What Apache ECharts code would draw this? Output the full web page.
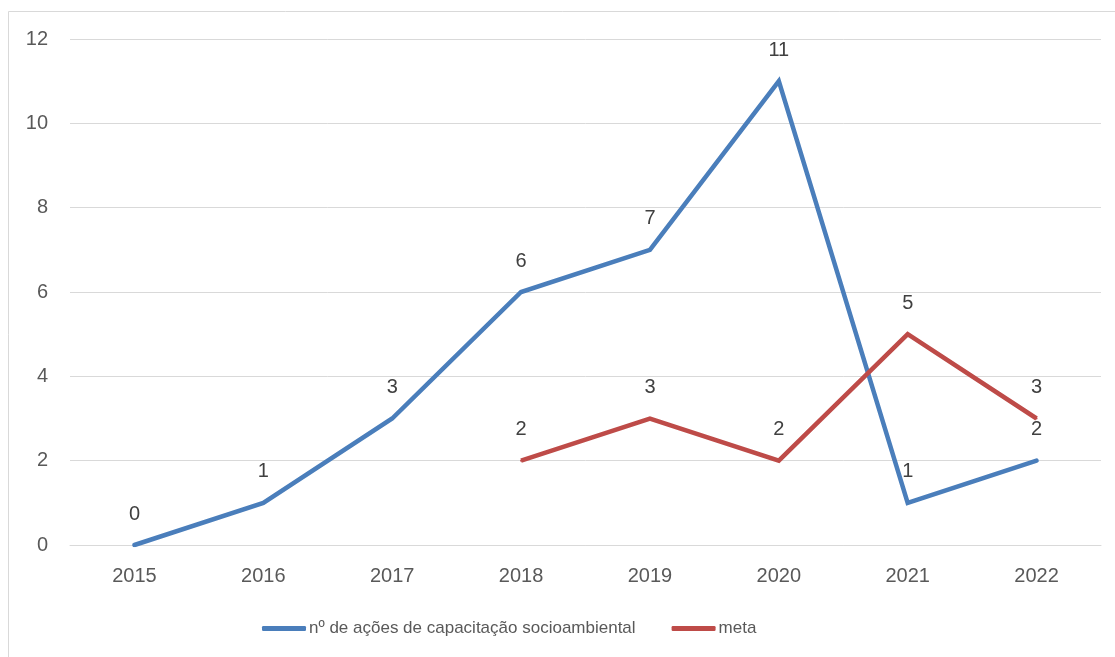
<!DOCTYPE html>
<html><head><meta charset="utf-8">
<script src="https://cdn.jsdelivr.net/npm/echarts@6/dist/echarts.min.js"></script>
<style>html,body{margin:0;padding:0;background:#fff}#c{width:1115px;height:657px}</style>
</head><body><div id="c"></div>
<script>
const categories = ['2015','2016','2017','2018','2019','2020','2021','2022'];
const acoes = [0, 1, 3, 6, 7, 11, 1, 2];
const meta = [null, null, null, 2, 3, 2, 5, 3];
const seriesNames = ['nº de ações de capacitação socioambiental', 'meta'];
const yTicks = {min: 0, max: 12, interval: 2};

const FONT = '"Liberation Sans", Arial, sans-serif';
const chart = echarts.init(document.getElementById('c'), null, {renderer: 'canvas'});
const lbl = {show: true, position: 'top', distance: 20, color: '#404040', fontSize: 20, fontFamily: FONT};
chart.setOption({
  animation: false,
  backgroundColor: '#fff',
  graphic: [{type: 'polyline', shape: {points: [[8.5, 700], [8.5, 11.5], [1200, 11.5]]}, style: {stroke: '#d9d9d9', lineWidth: 1, fill: null}}],
  grid: {left: 70, right: 14, top: 39, bottom: 112, containLabel: false},
  legend: {
    left: 257, top: 615, itemGap: 36, itemWidth: 44, itemHeight: 5, icon: 'roundRect',
    textStyle: {color: '#595959', fontSize: 17, fontFamily: FONT, padding: [0, 0, 0, -2]},
    data: seriesNames
  },
  xAxis: {
    type: 'category', data: categories, boundaryGap: true,
    axisLine: {lineStyle: {color: '#d9d9d9', width: 1}}, axisTick: {show: false},
    axisLabel: {color: '#595959', fontSize: 20, fontFamily: FONT, margin: 21}
  },
  yAxis: {
    type: 'value', min: yTicks.min, max: yTicks.max, interval: yTicks.interval,
    axisLine: {show: false}, axisTick: {show: false},
    splitLine: {lineStyle: {color: '#d9d9d9', width: 1}},
    axisLabel: {color: '#595959', fontSize: 20, fontFamily: FONT, margin: 22}
  },
  series: [
    {name: seriesNames[0], type: 'line', data: acoes, symbol: 'circle', symbolSize: 2, showSymbol: true,
     lineStyle: {color: '#4a7ebb', width: 4.5, cap: 'round', join: 'miter'}, itemStyle: {color: '#4a7ebb'},
     label: lbl},
    {name: seriesNames[1], type: 'line', data: meta, symbol: 'circle', symbolSize: 2, showSymbol: true,
     lineStyle: {color: '#be4b48', width: 4.5, cap: 'butt', join: 'miter'}, itemStyle: {color: '#be4b48'},
     label: lbl}
  ]
});
</script></body></html>
